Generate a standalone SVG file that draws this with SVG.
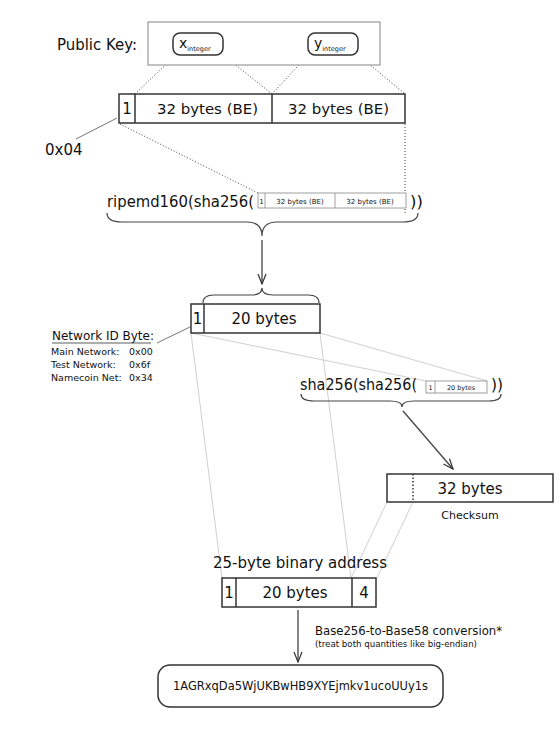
<svg xmlns="http://www.w3.org/2000/svg" width="554" height="732" viewBox="0 0 554 732">
<defs>
<style>
text{font-family:"DejaVu Sans","Liberation Sans",sans-serif;fill:#111}
.box{fill:#fff;stroke:#333;stroke-width:1.5}
.thin{fill:#fff;stroke:#888;stroke-width:0.8}
.dot{fill:none;stroke:#444;stroke-width:1;stroke-dasharray:1,2}
.light{fill:none;stroke:#d0d0d0;stroke-width:1}
.brace{fill:none;stroke:#444;stroke-width:1.2}
.arrow{fill:none;stroke:#444;stroke-width:1.3}
</style>
<marker id="ah" viewBox="0 0 12 12" refX="11" refY="6" markerWidth="12" markerHeight="12" markerUnits="userSpaceOnUse" orient="auto">
<path d="M1,2 L11,6 L1,10" fill="none" stroke="#333" stroke-width="1.2"/>
</marker>
</defs>

<g id="connectors">
<path class="dot" d="M177,54 L135,94"/>
<path class="dot" d="M222,54 L272,94"/>
<path class="dot" d="M309,54 L272,94"/>
<path class="dot" d="M357,54 L405,94"/>
<path class="dot" d="M120,124 L258,193"/>
<path class="dot" d="M405,124 L405,193"/>
<path class="dot" d="M405,209 L405,215"/>
<path d="M117,118 L76,139" fill="none" stroke="#777" stroke-width="1"/>
<path d="M190,327 L157,343" fill="none" stroke="#777" stroke-width="1"/>
<path class="brace" d="M107,213 Q107,222 122,222 L247,222 Q262,222 262,236 Q262,222 277,222 L403,222 Q418,222 418,213"/>
<path class="arrow" d="M262,240 L262,284" marker-end="url(#ah)"/>
<path class="brace" d="M203,303 Q203,295 214,295 L251,295 Q262,295 262,288 Q262,295 273,295 L308,295 Q319,295 319,303"/>
<path class="light" d="M191,333 L426,381"/>
<path class="light" d="M320,333 L487,381"/>
<path class="light" d="M191,333 L222,578"/>
<path class="light" d="M320,333 L351,578"/>
<path class="brace" d="M301,394 Q301,401 314,401 L390,401 Q402,401 402,407 Q402,401 414,401 L489,401 Q501,401 501,394"/>
<path class="arrow" d="M403,411 L453,469" marker-end="url(#ah)"/>
<path class="light" d="M387,502 L351,578"/>
<path class="light" d="M413,502 L377,578"/>
<path class="arrow" d="M298,610 L298,662" marker-end="url(#ah)"/>
</g>

<g id="public-key">
<rect x="148" y="22" width="232" height="43" fill="#fff" stroke="#999" stroke-width="1.2"/>
<text x="57" y="50" font-size="15.5" textLength="80" lengthAdjust="spacingAndGlyphs">Public Key:</text>
</g>
<g id="x-integer">
<rect x="173" y="33" width="50" height="22" rx="7" class="box" stroke-width="1.2"/>
<text x="179" y="48" font-size="14">x<tspan font-size="6.5" dy="3">integer</tspan></text>
</g>
<g id="y-integer">
<rect x="308" y="33" width="50" height="22" rx="7" class="box" stroke-width="1.2"/>
<text x="314" y="48" font-size="14">y<tspan font-size="6.5" dy="3">integer</tspan></text>
</g>

<g id="pubkey-bytes">
<rect x="119" y="94" width="286" height="29" class="box"/>
<line x1="135" y1="94" x2="135" y2="123" stroke="#333" stroke-width="1.5"/>
<line x1="272" y1="94" x2="272" y2="123" stroke="#333" stroke-width="1.5"/>
<text x="127" y="114" font-size="15" text-anchor="middle">1</text>
<text x="157" y="114" font-size="14.5" textLength="101" lengthAdjust="spacingAndGlyphs">32 bytes (BE)</text>
<text x="288" y="114" font-size="14.5" textLength="101" lengthAdjust="spacingAndGlyphs">32 bytes (BE)</text>
</g>
<g id="prefix-04">
<text x="45" y="155" font-size="15">0x04</text>
</g>

<g id="ripemd">
<text x="107" y="207" font-size="16.5" textLength="147" lengthAdjust="spacingAndGlyphs">ripemd160(sha256(</text>
<rect x="258" y="193" width="148" height="15" class="thin"/>
<line x1="265" y1="193" x2="265" y2="208" stroke="#888" stroke-width="0.8"/>
<line x1="335" y1="193" x2="335" y2="208" stroke="#888" stroke-width="0.8"/>
<text x="261.5" y="203.5" font-size="7" text-anchor="middle">1</text>
<text x="300" y="203.5" font-size="7" text-anchor="middle">32 bytes (BE)</text>
<text x="370" y="203.5" font-size="7" text-anchor="middle">32 bytes (BE)</text>
<text x="410" y="207" font-size="16.5">))</text>
</g>

<g id="hash160">
<rect x="191" y="304" width="129" height="29" class="box"/>
<line x1="204" y1="304" x2="204" y2="333" stroke="#333" stroke-width="1.5"/>
<text x="197.5" y="324" font-size="15" text-anchor="middle">1</text>
<text x="264" y="324" font-size="15" text-anchor="middle">20 bytes</text>
</g>

<g id="network-id">
<text x="52" y="340" font-size="12">Network ID Byte:</text>
<line x1="52" y1="343" x2="151" y2="343" stroke="#333" stroke-width="0.8"/>
<text x="51" y="355" font-size="9.5">Main Network:</text>
<text x="129" y="355" font-size="9.5">0x00</text>
<text x="51" y="368" font-size="9.5">Test Network:</text>
<text x="129" y="368" font-size="9.5">0x6f</text>
<text x="51" y="381" font-size="9.5">Namecoin Net:</text>
<text x="129" y="381" font-size="9.5">0x34</text>
</g>

<g id="double-sha">
<text x="300" y="390" font-size="15.5" textLength="117" lengthAdjust="spacingAndGlyphs">sha256(sha256(</text>
<rect x="426" y="381" width="61" height="12" class="thin"/>
<line x1="435" y1="381" x2="435" y2="393" stroke="#888" stroke-width="0.8"/>
<text x="430.5" y="390" font-size="6.5" text-anchor="middle">1</text>
<text x="461" y="390" font-size="6.5" text-anchor="middle">20 bytes</text>
<text x="491" y="390" font-size="15.5">))</text>
</g>

<g id="checksum">
<rect x="387" y="474" width="166" height="28" class="box" stroke-width="1.2"/>
<line x1="413" y1="474" x2="413" y2="502" stroke="#333" stroke-width="1.5" stroke-dasharray="1.5,2"/>
<text x="470" y="494" font-size="15" text-anchor="middle">32 bytes</text>
<text x="470" y="519" font-size="11" text-anchor="middle">Checksum</text>
</g>

<g id="binary-address">
<text x="213" y="568" font-size="15.5" textLength="174" lengthAdjust="spacingAndGlyphs">25-byte binary address</text>
<rect x="222" y="578" width="154" height="29" class="box"/>
<line x1="236" y1="578" x2="236" y2="607" stroke="#333" stroke-width="1.5"/>
<line x1="352" y1="578" x2="352" y2="607" stroke="#333" stroke-width="1.5"/>
<text x="229" y="598" font-size="15" text-anchor="middle">1</text>
<text x="295" y="598" font-size="15" text-anchor="middle">20 bytes</text>
<text x="364" y="598" font-size="15" text-anchor="middle">4</text>
</g>

<g id="conversion">
<text x="315" y="635" font-size="12" textLength="187" lengthAdjust="spacingAndGlyphs">Base256-to-Base58 conversion*</text>
<text x="315" y="647" font-size="8.6" textLength="162" lengthAdjust="spacingAndGlyphs">(treat both quantities like big-endian)</text>
</g>

<g id="address">
<rect x="158" y="665" width="285" height="42" rx="12" class="box" stroke-width="1.2"/>
<text x="173" y="690" font-size="11.5" textLength="255" lengthAdjust="spacingAndGlyphs">1AGRxqDa5WjUKBwHB9XYEjmkv1ucoUUy1s</text>
</g>
</svg>
